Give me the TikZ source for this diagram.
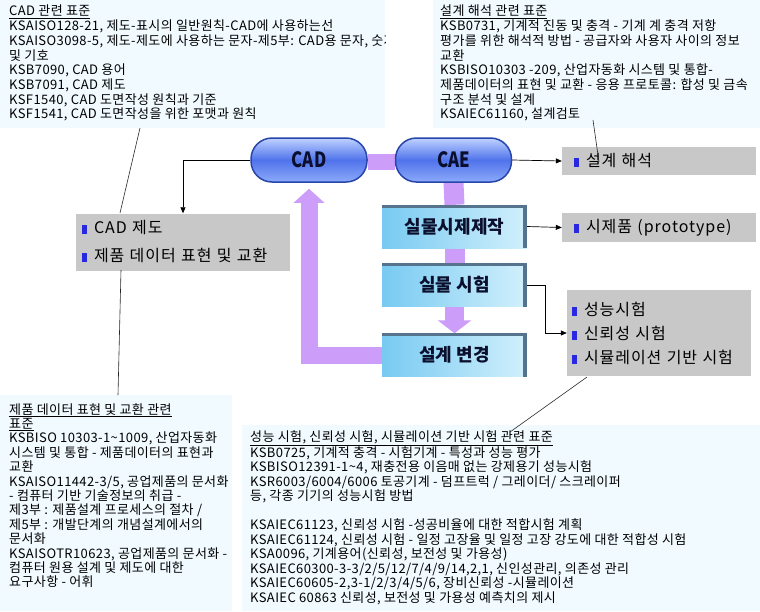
\documentclass[tikz,border=0pt]{standalone}
\usepackage{fontspec}
\usepackage{graphicx}
\setmainfont{Noto Sans CJK KR}
\newfontfamily\notefont[LetterSpace=3]{Noto Sans CJK KR}
\newfontfamily\itemfont[LetterSpace=6]{Noto Sans CJK KR}
\usetikzlibrary{arrows.meta,positioning,backgrounds}

\definecolor{paleblue}{RGB}{240,250,255}
\definecolor{greybox}{RGB}{200,200,200}
\definecolor{lilac}{RGB}{204,158,250}
\definecolor{pilledge}{RGB}{40,70,170}
\definecolor{pilltop}{RGB}{190,210,255}
\definecolor{pillmid}{RGB}{80,115,235}
\definecolor{pillbot}{RGB}{140,170,250}
\definecolor{boxleft}{RGB}{120,202,242}
\definecolor{boxright}{RGB}{210,240,252}
\definecolor{boxedge}{RGB}{85,115,140}
\definecolor{navy}{RGB}{10,15,45}
\definecolor{bulblue}{RGB}{40,40,225}

\newcommand{\bul}{{\color{bulblue}\rule[-0.5pt]{5pt}{9pt}}\hspace{7pt}}

\tikzset{
	note/.style={anchor=north west, align=left, inner sep=0pt, font=\notefont\fontsize{13}{14.7}\selectfont},
	pill/.style={rounded corners=21pt, draw=pilledge, line width=1.5pt, top color=pilltop, bottom color=pillbot, middle color=pillmid, minimum width=116pt, minimum height=44pt, text=navy, font=\bfseries\fontsize{21}{21}\selectfont},
	stepbox/.style={minimum width=145pt, minimum height=43pt, left color=boxleft, right color=boxright, text=navy, font=\bfseries\fontsize{18}{18}\selectfont},
	itembox/.style={fill=greybox, inner xsep=6pt, align=left, font=\itemfont\fontsize{16}{16}\selectfont},
	link/.style={-{Triangle[length=6pt,width=5pt]}, line width=0.7pt},
	callout/.style={line width=0.6pt, draw=black!85},
	flow/.style={draw=lilac, line join=miter},
}

\begin{document}
\begin{tikzpicture}[x=1pt, y=-1pt]
	%%%%% START %%%%%
	\useasboundingbox (0,0) rectangle (760,611);

	% standard boxes
	\fill[paleblue] (0,0) rectangle (385,128);
	\fill[paleblue] (433,0) rectangle (760,128);
	\fill[paleblue] (0,395) rectangle (232,611);
	\fill[paleblue] (242,425) rectangle (760,611);

	\begin{scope}
		\clip (0,0) rectangle (385,128);
		\node[note] (cadstd) at (9,5) {\underline{CAD 관련 표준}\\
			KSAISO128-21, 제도-표시의 일반원칙-CAD에 사용하는선\\
			KSAISO3098-5, 제도-제도에 사용하는 문자-제5부: CAD용 문자, 숫자\\
			및 기호\\
			KSB7090, CAD 용어\\
			KSB7091, CAD 제도\\
			KSF1540, CAD 도면작성 원칙과 기준\\
			KSF1541, CAD 도면작성을 위한 포맷과 원칙};
	\end{scope}

	\node[note] (caestd) at (440,5) {\underline{설계 해석 관련 표준}\\
		KSB0731, 기계적 진동 및 충격 - 기계 계 충격 저항\\
		평가를 위한 해석적 방법 - 공급자와 사용자 사이의 정보\\
		교환\\
		KSBISO10303 -209, 산업자동화 시스템 및 통합-\\
		제품데이터의 표현 및 교환 - 응용 프로토콜: 합성 및 금속\\
		구조 분석 및 설계\\
		KSAIEC61160, 설계검토};

	\node[note, font=\notefont\fontsize{13}{14.4}\selectfont] (pdstd) at (9,403) {\underline{제품 데이터 표현 및 교환 관련}\\
		\underline{표준}\\
		KSBISO 10303-1\textasciitilde 1009, 산업자동화\\
		시스템 및 통합 - 제품데이터의 표현과\\
		교환\\
		KSAISO11442-3/5, 공업제품의 문서화\\
		- 컴퓨터 기반 기술정보의 취급 -\\
		제3부 : 제품설계 프로세스의 절차 /\\
		제5부 : 개발단계의 개념설계에서의\\
		문서화\\
		KSAISOTR10623, 공업제품의 문서화 -\\
		컴퓨터 원용 설계 및 제도에 대한\\
		요구사항 - 어휘};

	\node[note, font=\notefont\fontsize{13}{14.5}\selectfont] (teststd) at (250,430) {\underline{성능 시험, 신뢰성 시험, 시뮬레이션 기반 시험 관련 표준}\\
		KSB0725, 기계적 충격 - 시험기계 - 특성과 성능 평가\\
		KSBISO12391-1\textasciitilde 4, 재충전용 이음매 없는 강제용기 성능시험\\
		KSR6003/6004/6006 토공기계 - 덤프트럭 / 그레이더/ 스크레이퍼\\
		등, 각종 기기의 성능시험 방법\\[14.5pt]
		KSAIEC61123, 신뢰성 시험 -성공비율에 대한 적합시험 계획\\
		KSAIEC61124, 신뢰성 시험 - 일정 고장율 및 일정 고장 강도에 대한 적합성 시험\\
		KSA0096, 기계용어(신뢰성, 보전성 및 가용성)\\
		KSAIEC60300-3-3/2/5/12/7/4/9/14,2,1, 신인성관리, 의존성 관리\\
		KSAIEC60605-2,3-1/2/3/4/5/6, 장비신뢰성 -시뮬레이션\\
		KSAIEC 60863 신뢰성, 보전성 및 가용성 예측치의 제시};

	% process
	\node[pill] (cad) at (309,160) {\scalebox{0.8}[1]{CAD}};
	\node[pill] (cae) at (453.5,160) {\scalebox{0.8}[1]{CAE}};
	\node[stepbox] (proto) at (454.5,226.5) {실물시제제작};
	\node[stepbox] (test) at (454.5,285) {실물 시험};
	\node[stepbox] (change) at (454.5,355) {설계 변경};
	\foreach \n in {proto,test,change}{
		\fill[boxedge] (\n.north west) rectangle ([yshift=-3pt]\n.north east);
		\fill[boxedge] ([xshift=-4pt]\n.north east) rectangle (\n.south east);
	}

	% lists
	\node[itembox, minimum width=214pt, minimum height=57pt, text width=202pt] (drawlist) at (183,242) {\bul CAD 제도\\[12pt]\bul 제품 데이터 표현 및 교환};
	\node[itembox, minimum width=182pt, minimum height=28pt, text width=170pt, inner xsep=12pt] (anal) at (659,161) {\bul 설계 해석};
	\node[itembox, minimum width=182pt, minimum height=29pt, text width=170pt, inner xsep=12pt] (protolist) at (659,227.5) {\bul 시제품 (prototype)};
	\node[itembox, minimum width=182pt, minimum height=86pt, text width=174pt, inner xsep=5pt] (testlist) at (659,333) {\bul 성능시험\\[8pt]\bul 신뢰성 시험\\[8pt]\bul 시뮬레이션 기반 시험};

	% purple flow
	\begin{scope}[on background layer]
		\draw[flow, line width=16pt] ([yshift=-2pt]cad.east) -- ([yshift=-2pt]cae.west);
		\draw[flow, line width=20pt] (cae.south) -- (proto.north);
		\draw[flow, line width=20pt] (proto.south) -- (test.north);
		\draw[flow, line width=19pt, -{Triangle[length=13pt,width=33pt]}] (test.south) -- (change.north);
		\draw[flow, line width=17pt, shorten >=6pt, -{Triangle[length=14pt,width=30pt]}] (change.west) -| (cad.south);
	\end{scope}

	% links
	\draw[link] (cad.west) -| (drawlist.north);
	\draw[link] (cae.east) -- (anal.west);
	\draw[link] (proto.east) -- (protolist.west);
	\draw[link] (test.east) -- ++(18,0) |- (testlist.west);

	% callouts
	\coordinate (c1) at (140,128);
	\coordinate (c2) at (120,213);
	\coordinate (c3) at (121,270);
	\coordinate (c4) at (118,395);
	\coordinate (c5) at (593,120);
	\coordinate (c6) at (599,162);
	\coordinate (c7) at (587,377);
	\coordinate (c8) at (510,432);
	\draw[callout] (c1) -- (c2);
	\draw[callout] (c3) -- (c4);
	\draw[callout] (c5) -- (c6);
	\draw[callout] (c7) -- (c8);
	%%%%% END %%%%%
\end{tikzpicture}
\end{document}
